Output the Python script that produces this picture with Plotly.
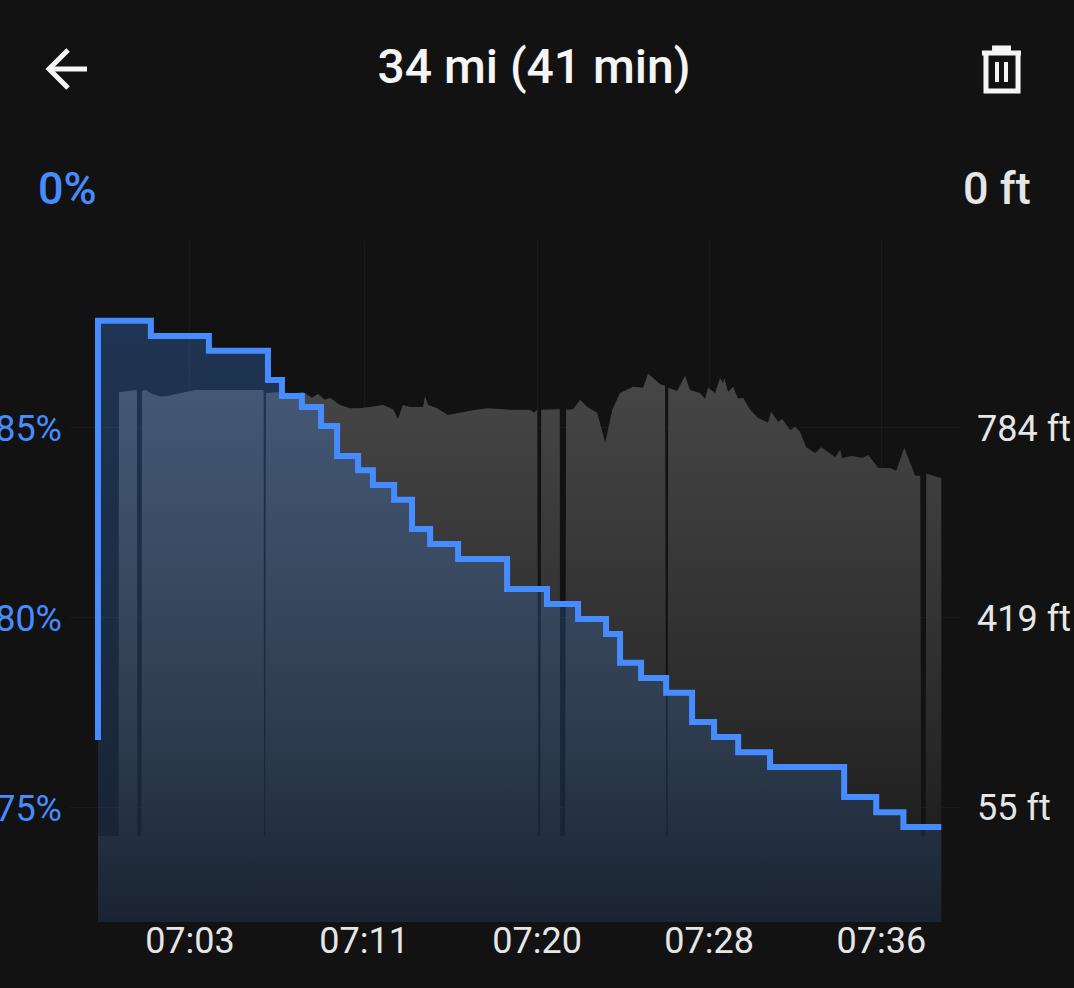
"""Battery and elevation over one drive, dark phone-style screen."""

import plotly.graph_objects as go

# time is minutes after 07:00
tick_minutes = [3.0, 11.46, 19.87, 28.23, 36.6]
tick_labels = ["07:03", "07:11", "07:20", "07:28", "07:36"]

battery_ticks = [75, 80, 85]
battery_labels = ["75%", "80%", "85%"]
# 1142 ft is the top of the axis, it only gets a gridline
elevation_ticks = [55, 419, 784, 1142]
elevation_labels = ["55 ft", "419 ft", "784 ft", ""]

battery_minutes = [
    -1.47, -1.47, 1.10, 3.92, 6.79, 7.47, 8.44, 9.37, 10.15, 11.17, 11.89, 12.92, 13.79, 14.67,
    16.03, 18.41, 20.35, 21.86, 23.22, 23.90, 24.92, 26.14, 27.40, 28.47, 29.64, 31.19, 34.79,
    36.35, 37.67, 39.51,
]
battery_pct = [
    76.79, 87.82, 87.42, 87.03, 86.26, 85.84, 85.55, 85.05, 84.26, 83.89, 83.50, 83.11, 82.34,
    81.95, 81.55, 80.76, 80.37, 79.97, 79.58, 78.82, 78.42, 78.03, 77.26, 76.87, 76.47, 76.08,
    75.29, 74.89, 74.50, 74.50,
]

elevation_minutes = [
    -1.47, -0.47, -0.45, -0.40, -0.01, 0.37, 0.42, 0.45, 0.64, 0.67, 0.86, 1.15, 1.54, 1.83, 2.27,
    2.76, 3.24, 3.97, 4.94, 6.50, 6.58, 6.60, 6.65, 6.69, 7.37, 7.86, 8.49, 8.93, 9.22, 9.56,
    9.80, 10.29, 10.77, 11.17, 11.75, 12.38, 12.87, 13.11, 13.35, 13.69, 14.33, 14.42, 14.57,
    15.01, 15.54, 16.61, 17.44, 18.55, 19.53, 19.72, 19.87, 19.92, 20.02, 20.07, 20.16, 20.89,
    20.97, 20.99, 21.23, 21.28, 21.62, 21.96, 22.30, 22.79, 23.18, 23.52, 23.90, 24.53, 25.02,
    25.26, 25.85, 26.09, 26.14, 26.21, 26.24, 26.67, 27.06, 27.30, 27.79, 28.03, 28.18, 28.52,
    28.76, 28.91, 28.96, 29.15, 29.39, 29.64, 29.88, 30.22, 30.61, 31.09, 31.24, 31.58, 31.78,
    32.17, 32.41, 32.65, 32.95, 33.38, 33.67, 34.35, 34.60, 34.69, 35.18, 35.67, 35.96, 36.45,
    37.03, 37.32, 37.71, 38.10, 38.24, 38.49, 38.53, 38.75, 38.78, 39.51,
]
elevation_ft = [
    0, 0, 853, 853, 855, 857, 857, 0, 0, 855, 857, 849, 845, 845, 849,
    853, 857, 857, 857, 857, 857, 0, 0, 851, 853, 849, 853, 842, 849, 838,
    842, 828, 822, 822, 824, 828, 820, 801, 828, 824, 824, 845, 828,
    822, 809, 817, 822, 819, 819, 813, 819, 0, 0, 819, 819, 820,
    820, 0, 0, 819, 820, 838, 824, 813, 755, 819, 851, 863, 861,
    888, 868, 865, 0, 0, 861, 855, 884, 857, 851, 840, 861, 851,
    880, 870, 880, 853, 863, 840, 842, 819, 803, 794, 815, 796, 801,
    780, 786, 776, 747, 736, 747, 728, 742, 726, 730, 726, 732, 707,
    707, 701, 746, 707, 692, 692, 0, 0, 696, 688,
]

elevation_floor = [-165] * len(elevation_minutes)

BG = "#121212"
BLUE = "#468cff"
GRID = "#1a1a1a"
FONT = "Roboto"


def px(x, y):
    # screen pixel to paper position, only used for the header icons
    return (x - 70) / 890, (922 - y) / 681


def icon_path(points):
    return "M " + " L ".join("%.4f %.4f" % px(x, y) for x, y in points)


figure = go.Figure()

figure.add_trace(
    go.Scatter(
        x=elevation_minutes,
        y=elevation_floor,
        mode="lines",
        line=dict(width=0),
        hoverinfo="skip",
        showlegend=False,
    )
)
figure.add_trace(
    go.Scatter(
        x=elevation_minutes,
        y=elevation_ft,
        mode="lines",
        line=dict(width=0),
        fill="tonexty",
        fillgradient=dict(
            type="vertical",
            start=-165,
            stop=900,
            colorscale=[[0, "#141414"], [0.31, "#282828"], [1, "#474747"]],
        ),
        showlegend=False,
    )
)
figure.add_trace(
    go.Scatter(
        x=battery_minutes,
        y=battery_pct,
        yaxis="y2",
        mode="lines",
        line=dict(color=BLUE, width=6, shape="hv"),
        fill="tozeroy",
        fillgradient=dict(
            type="vertical",
            start=72,
            stop=88,
            colorscale=[[0, "rgba(64,140,245,0.13)"], [1, "rgba(64,140,245,0.29)"]],
        ),
        showlegend=False,
    )
)

figure.update_layout(
    width=1074,
    height=988,
    margin=dict(l=70, r=114, t=241, b=66),
    paper_bgcolor=BG,
    plot_bgcolor=BG,
    font=dict(family=FONT, color="#e6e6e6", size=36),
    title=dict(
        text="34 mi (41 min)",
        x=534 / 1074,
        xanchor="center",
        y=1 - 66 / 988,
        yanchor="middle",
        font=dict(family=FONT, size=48, color="#f5f5f5", weight=500),
    ),
    xaxis=dict(
        range=[-2.83, 40.42],
        tickvals=tick_minutes,
        ticktext=tick_labels,
        ticklabelstandoff=-6,
        automargin=False,
        gridcolor=GRID,
        zeroline=False,
        showline=False,
        ticks="",
    ),
    yaxis=dict(
        side="right",
        range=[-165, 1143],
        tickvals=elevation_ticks,
        ticktext=elevation_labels,
        ticklabelstandoff=16,
        automargin=False,
        gridcolor=GRID,
        zeroline=False,
        showline=False,
        ticks="",
    ),
    yaxis2=dict(
        side="left",
        overlaying="y",
        range=[72, 89.92],
        tickvals=battery_ticks,
        ticktext=battery_labels,
        ticklabelstandoff=7,
        automargin=False,
        tickfont=dict(color=BLUE),
        showgrid=False,
        zeroline=False,
        showline=False,
        ticks="",
    ),
    annotations=[
        dict(
            text="0%", xref="paper", yref="paper", x=px(67, 0)[0], y=px(0, 188)[1],
            xanchor="center", yanchor="middle",
            showarrow=False, font=dict(size=45, color=BLUE, weight=500),
        ),
        dict(
            text="0 ft", xref="paper", yref="paper", x=px(997, 0)[0], y=px(0, 188)[1],
            xanchor="center", yanchor="middle",
            showarrow=False, font=dict(size=45, color="#e6e6e6", weight=500),
        ),
    ],
    shapes=[
        dict(
            type="path", xref="paper", yref="paper",
            path=icon_path([(87, 69), (49, 69)]) + " " + icon_path([(68, 50), (49, 69), (68, 88)]),
            line=dict(color="#f5f5f5", width=5),
        ),
        dict(
            type="path", xref="paper", yref="paper",
            path=icon_path([(982, 53), (1021, 53)]) + " " + icon_path([(992, 48), (1011, 48)]),
            line=dict(color="#f5f5f5", width=5),
        ),
        dict(
            type="path", xref="paper", yref="paper",
            path=icon_path([(986, 55), (986, 91), (1018, 91), (1018, 55)]),
            line=dict(color="#f5f5f5", width=5),
        ),
        dict(
            type="path", xref="paper", yref="paper",
            path=icon_path([(997, 62), (997, 82)]) + " " + icon_path([(1006, 62), (1006, 82)]),
            line=dict(color="#f5f5f5", width=4),
        ),
    ],
)

# the page's default body margin would leave a white frame round the dark screen
figure.write_html(
    "out.html",
    config={"displayModeBar": False},
    post_script="document.body.style.margin = '0';",
)
